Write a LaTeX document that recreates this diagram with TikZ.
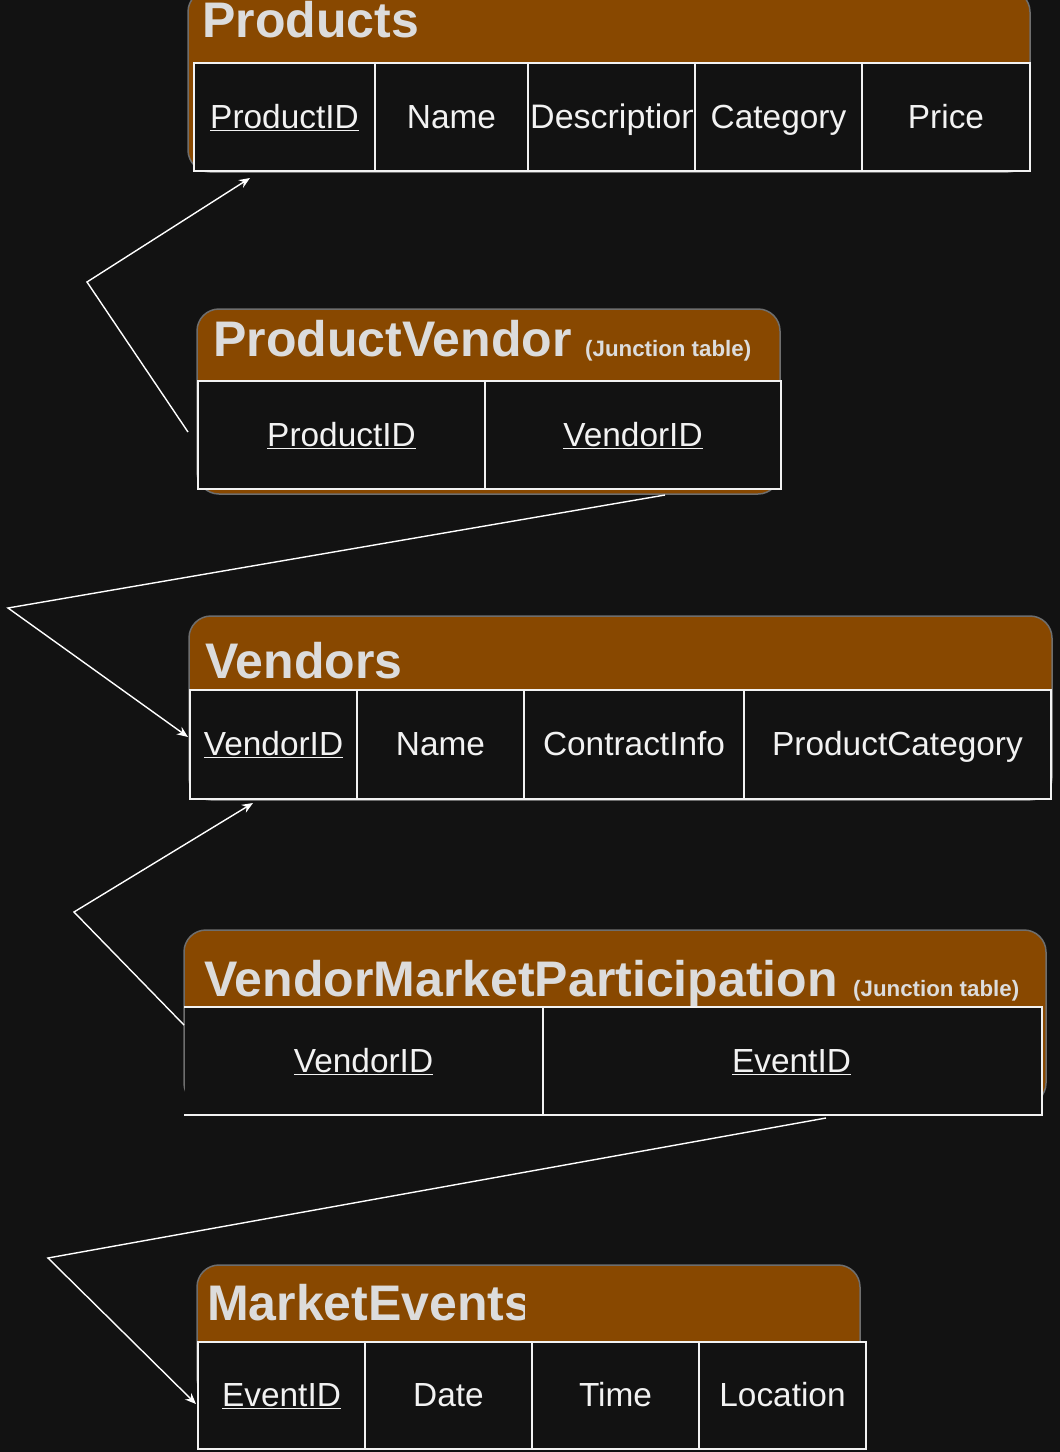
\documentclass[tikz,border=0pt]{standalone}
\usepackage{fontspec}
\setmainfont{Liberation Sans}
\usetikzlibrary{arrows.meta}
\definecolor{colBg}{HTML}{121212}
\definecolor{colHdr}{HTML}{884800}
\definecolor{colTitle}{HTML}{DCDCDC}
\definecolor{colTxt}{HTML}{F2F2F2}
\definecolor{colEdge}{HTML}{6E6E6E}
\begin{document}
\begin{tikzpicture}[x=1pt,y=-1pt,
  card/.style={fill=colHdr,draw=colEdge,line width=1.5pt,rounded corners=22pt},
  tcell/.style={draw=colTxt,line width=2pt,fill=colBg,text=colTxt,
    font=\fontsize{33.4}{36}\selectfont,text height=24pt,text depth=2pt,
    inner sep=0pt,anchor=north west},
  ncell/.style={tcell,draw=none},
  ttlstyle/.style={text=colTitle,font=\bfseries\fontsize{50}{52}\selectfont,anchor=base west,inner sep=0pt},
  jnstyle/.style={text=colTitle,font=\bfseries\fontsize{22.3}{24}\selectfont,anchor=base west,inner sep=0pt},
  link/.style={draw=white,line width=1.4pt},
  arr/.style={link,-{Stealth[length=11pt,width=9pt]}}]
\useasboundingbox (0,0) rectangle (1060,1452);
\fill[colBg] (0,0) rectangle (1060,1452);

% ---------- Products ----------
\path[card] (188,-10) rectangle (1030,172);
\node[ttlstyle] (tP) at (202,37) {Products};
\node[tcell,minimum width=181pt,minimum height=108pt] (p1) at (193,62) {\underline{ProductID}};
\node[tcell,minimum width=153pt,minimum height=108pt] (p2) at (374,62) {Name};
\node[tcell,minimum width=167pt,minimum height=108pt] (p3) at (527,62) {};
\begin{scope}
  \clip (527,62) rectangle (692,170);
  \node[text=colTxt,font=\fontsize{34}{36}\selectfont,anchor=base west,inner sep=0pt] (p3t) at (530,128) {Description};
\end{scope}
\node[tcell,minimum width=167pt,minimum height=108pt] (p4) at (694,62) {Category};
\node[tcell,minimum width=168pt,minimum height=108pt] (p5) at (861,62) {Price};

% ---------- ProductVendor ----------
\path[card] (197,309) rectangle (780,494);
\node[ttlstyle] (tPV) at (213,356) {ProductVendor};
\node[jnstyle] (jPV) at (585,356) {(Junction table)};
\node[tcell,minimum width=287pt,minimum height=108pt] (pv1) at (197,380) {\underline{ProductID}};
\node[tcell,minimum width=296pt,minimum height=108pt] (pv2) at (484,380) {\underline{VendorID}};

% ---------- Vendors ----------
\path[card] (189,616) rectangle (1052,800);
\node[ttlstyle] (tV) at (205,678) {Vendors};
\node[tcell,minimum width=167pt,minimum height=109pt] (v1) at (189,689) {\underline{VendorID}};
\node[tcell,minimum width=167pt,minimum height=109pt] (v2) at (356,689) {Name};
\node[tcell,minimum width=220pt,minimum height=109pt] (v3) at (523,689) {ContractInfo};
\node[tcell,minimum width=307pt,minimum height=109pt] (v4) at (743,689) {ProductCategory};

% ---------- VendorMarketParticipation ----------
\path[card] (184,930) rectangle (1046,1105);
\node[ttlstyle] (tVM) at (204,996) {VendorMarketParticipation};
\node[jnstyle] (jVM) at (853,996) {(Junction table)};
\node[ncell,fill=colBg,minimum width=357pt,minimum height=106pt] (m1) at (184,1007) {\underline{VendorID}};
\node[ncell,fill=colBg,minimum width=499pt,minimum height=106pt] (m2) at (541,1007) {\underline{EventID}};
\draw[draw=colTxt,line width=2pt] (m1.north west) -- (m2.north east) -- (m2.south east) -- (m1.south west);
\draw[draw=colTxt,line width=2pt] (m1.north east) -- (m1.south east);

% ---------- MarketEvents ----------
\path[card] (197,1265) rectangle (860,1400);
\begin{scope}
  \clip (197,1265) rectangle (524,1341);
  \node[ttlstyle] (tME) at (207,1320) {MarketEvents};
\end{scope}
\node[tcell,minimum width=167pt,minimum height=107pt] (e1) at (197,1341) {\underline{EventID}};
\node[tcell,minimum width=167pt,minimum height=107pt] (e2) at (364,1341) {Date};
\node[tcell,minimum width=167pt,minimum height=107pt] (e3) at (531,1341) {Time};
\node[tcell,minimum width=167pt,minimum height=107pt] (e4) at (698,1341) {Location};

% ---------- connectors ----------
\coordinate (a1s) at (188,432);
\coordinate (a1b) at (87,282);
\coordinate (a1e) at (250,178);
\coordinate (a2s) at (665,495);
\coordinate (a2b) at (8,608);
\coordinate (a2e) at (188,737);
\coordinate (a3s) at (184,1025);
\coordinate (a3b) at (74,912);
\coordinate (a3e) at (253,803);
\coordinate (a4s) at (826,1118);
\coordinate (a4b) at (48,1258);
\coordinate (a4e) at (196,1404);
\draw[arr] (a1s) -- (a1b) -- (a1e);
\draw[arr] (a2s) -- (a2b) -- (a2e);
\draw[arr] (a3s) -- (a3b) -- (a3e);
\draw[arr] (a4s) -- (a4b) -- (a4e);
\end{tikzpicture}
\end{document}
